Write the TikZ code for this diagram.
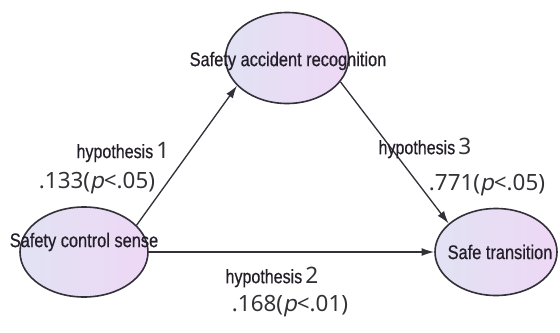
\documentclass[tikz,border=0pt]{standalone}
\usepackage{fontspec}
\setmainfont{Liberation Sans}
\newfontfamily\cond[FakeStretch=0.83,FakeBold=0.6]{Liberation Sans}
\newfontfamily\numf{Noto Sans}
\newfontfamily\numi[FakeSlant=0.2]{Noto Sans}
\usetikzlibrary{arrows.meta,shapes.geometric}
\definecolor{edgec}{RGB}{50,48,56}
\definecolor{fillL}{RGB}{226,226,244}
\definecolor{fillR}{RGB}{238,216,245}
\definecolor{txt}{RGB}{35,30,40}
\definecolor{numc}{RGB}{50,50,55}
\newcommand{\pv}{{\numi p}}
\begin{document}
\begin{tikzpicture}[x=0.75pt,y=-0.75pt,
  ell/.style={ellipse, draw=edgec, line width=1.2pt, left color=fillL, right color=fillR, inner sep=0pt},
  elltext/.style={font=\cond\fontsize{14.8}{16}\selectfont, text=txt, inner sep=0pt},
  hyp/.style={font=\cond\fontsize{14.5}{16}\selectfont, text=txt, inner sep=0pt},
  num/.style={font=\numf\fontsize{16.8}{18}\selectfont, text=numc, inner sep=0pt},
  arr/.style={draw=edgec, line width=1pt, -{Latex[length=9.5pt,width=6pt]}}]
\useasboundingbox (0,0) rectangle (560,332);
% ellipses
\node[ell, minimum width=123*0.75pt, minimum height=91*0.75pt] (T) at (287,58) {};
\node[ell, minimum width=128*0.75pt, minimum height=90*0.75pt] (L) at (84,252) {};
\node[ell, minimum width=122*0.75pt, minimum height=87*0.75pt] (R) at (496,252) {};
% ellipse texts
\node[elltext] (Tt) at (288,61) {Safety accident recognition};
\node[elltext] (Lt) at (84,242) {Safety control sense};
\node[elltext] (Rt) at (500,252) {Safe transition};
% connectors
\draw[arr] (L.27) -- (T.-151);
\draw[arr] (T.-24) -- (R.149);
\draw[arr] (L) -- (R);
% labels
\node[hyp] (h1) at (123,152) {hypothesis\,{\numf\fontsize{17}{18}\selectfont\color{numc}1}};
\node[num] (v1) at (97,183) {.133(\pv<.05)};
\node[hyp] (h3) at (425,148) {hypothesis\,{\numf\fontsize{17}{18}\selectfont\color{numc}3}};
\node[num] (v3) at (487,185) {.771(\pv<.05)};
\node[hyp] (h2) at (272,277) {hypothesis\,{\numf\fontsize{17}{18}\selectfont\color{numc}2}};
\node[num] (v2) at (290,306) {.168(\pv<.01)};
\end{tikzpicture}
\end{document}
